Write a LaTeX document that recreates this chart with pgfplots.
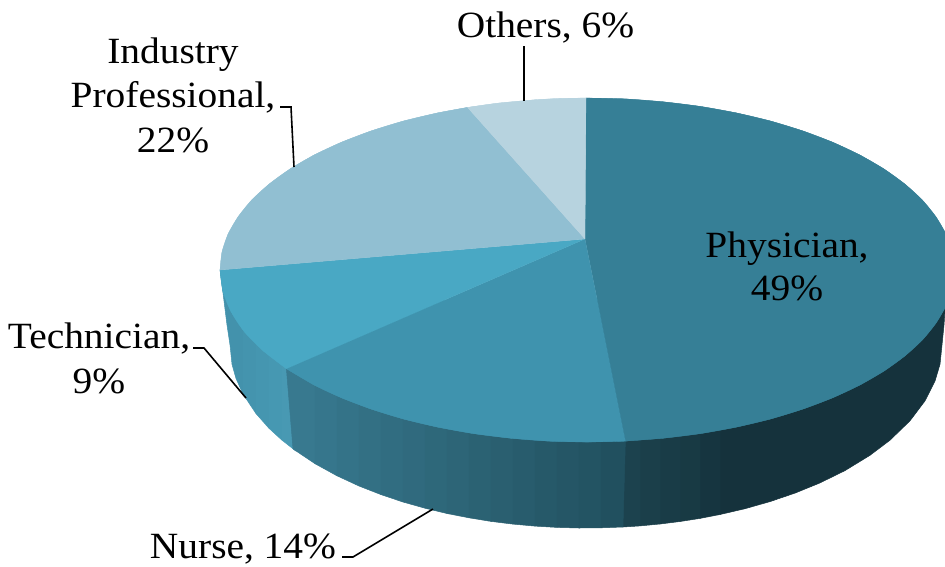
\documentclass[border=0pt]{standalone}
\usepackage{pgfplots}
\pgfplotsset{compat=1.18}
\usepackage{fontspec}
\setmainfont[FakeStretch=1.065]{Liberation Serif}
\definecolor{tp}{HTML}{367F96}
\definecolor{tn}{HTML}{3F93AE}
\definecolor{tt}{HTML}{49A8C4}
\definecolor{ti}{HTML}{91BFD2}
\definecolor{to}{HTML}{B7D3DF}
\definecolor{pa}{HTML}{15323C}
\definecolor{pb}{HTML}{163540}
\definecolor{pc}{HTML}{183A44}
\definecolor{pd}{HTML}{193C47}
\definecolor{pe}{HTML}{1B3F4A}
\definecolor{pf}{HTML}{1C424E}
\definecolor{na}{RGB}{56,121,143}
\definecolor{nb}{RGB}{54,118,140}
\definecolor{nc}{RGB}{52,115,136}
\definecolor{nd}{RGB}{51,112,132}
\definecolor{ne}{RGB}{49,109,129}
\definecolor{nf}{RGB}{48,106,126}
\definecolor{ng}{RGB}{46,104,122}
\definecolor{nh}{RGB}{45,101,119}
\definecolor{ni}{RGB}{43,98,115}
\definecolor{nj}{RGB}{42,95,112}
\definecolor{nk}{RGB}{40,92,109}
\definecolor{nl}{RGB}{38,89,105}
\definecolor{nm}{RGB}{37,86,102}
\definecolor{nn}{RGB}{35,84,99}
\definecolor{no}{RGB}{33,80,95}
\definecolor{ea}{HTML}{4392AC}
\definecolor{eb}{HTML}{4494AE}
\definecolor{ec}{HTML}{4596B0}
\definecolor{ed}{HTML}{4698B2}
\definecolor{ee}{HTML}{4899B3}
\newcommand\q[2]{\addplot[forget plot,no marks,fill=#1,draw=#1,line width=.5pt,line join=round] coordinates {#2} -- cycle;}
\newcommand\tq[2]{\addplot[forget plot,no marks,fill=#1,draw=#1,line width=.2pt,line join=round] coordinates {#2} -- cycle;}
\newcommand\cp[2]{\addplot[forget plot,no marks,smooth,fill=#1,draw=#1,line width=.2pt] coordinates {#2} -- cycle;}
\newcommand\lead[1]{\addplot[forget plot,no marks,black,line width=1.6pt] coordinates {#1};}
\newcommand\lab[3]{\node[anchor=base,inner sep=0pt,font=\fontsize{37}{44}\selectfont] at (axis cs:#1,#2) {#3};}
\begin{document}
\begin{tikzpicture}
\begin{axis}[hide axis,scale only axis,width=945pt,height=566pt,xmin=0,xmax=945,ymin=0,ymax=566,y dir=reverse,clip=true,clip mode=individual]
% side wall: Physician
\q{pa}{(720,290)(720,514.5)(745,508.7)(770,501.6)(795,493.1)(820,482.9)(845,470.6)(870,455.3)(890,440.2)(910,420.8)(925,400.9)(935,381.1)(940,364.3)(942,345)(944,325)(945.5,303)(945.5,290)}
\q{pb}{(700,300)(700,518.4)(720,514.5)(720,300)}
\q{pc}{(680,300)(680,521.5)(700,518.4)(700,300)}
\q{pd}{(660,300)(660,524)(680,521.5)(680,300)}
\q{pe}{(640,300)(640,525.9)(660,524)(660,300)}
\q{pf}{(625,300)(623,527)(640,525.9)(640,300)}
% side wall: Technician
\q{ea}{(220,270)(223,293)(227,325)(230,345)(232,364.3)(236,378.5)(243,394)(243,280)}
\q{eb}{(243,300)(243,394)(256,413.6)(256,300)}
\q{ec}{(256,300)(256,413.6)(269,428.3)(269,300)}
\q{ed}{(269,300)(269,428.3)(282,440.2)(282,300)}
\q{ee}{(282,300)(282,440.2)(296,451.1)(296,300)}
% side wall: Nurse
\q{na}{(286.4,300)(286.4,368.7)(293,448.9)(315,463.7)(315,300)}
\q{nb}{(315,300)(315,463.7)(337,475.8)(337,300)}
\q{nc}{(337,300)(337,475.8)(359,486)(359,300)}
\q{nd}{(359,300)(359,486)(381,494.6)(381,300)}
\q{ne}{(381,300)(381,494.6)(403,502)(403,300)}
\q{nf}{(403,300)(403,502)(425,508.2)(425,300)}
\q{ng}{(425,300)(425,508.2)(447,513.5)(447,300)}
\q{nh}{(447,300)(447,513.5)(469,517.8)(469,300)}
\q{ni}{(469,300)(469,517.8)(491,521.4)(491,300)}
\q{nj}{(491,300)(491,521.4)(513,524.1)(513,300)}
\q{nk}{(513,300)(513,524.1)(535,526.1)(535,300)}
\q{nl}{(535,300)(535,526.1)(557,527.4)(557,300)}
\q{nm}{(557,300)(557,527.4)(579,528)(579,300)}
\q{nn}{(579,300)(579,528)(601,527.8)(601,300)}
\q{no}{(601,300)(601,527.8)(623,527)(625.4,441.1)(625.4,300)}
% top sectors
\tq{tp}{(585,239)(586,98)(625.4,98.9)(663.3,101.8)(700.4,106.4)(736.4,112.9)(770.5,121)(802.8,130.9)(832.6,142.2)(859.7,154.9)(883.9,168.9)(904.8,184)(922.3,200)(936,216.9)(946,234.2)(952,252)(954,270)(952,288)(946,305.8)(936,323.1)(922.3,340)(904.8,356)(883.9,371.1)(859.7,385.1)(832.6,397.8)(802.8,409.1)(770.5,419)(736.4,427.1)(700.4,433.6)(663.3,438.2)(625.4,441.1)}
\cp{tp}{(586,98)(625.4,98.9)(663.3,101.8)(700.4,106.4)(736.4,112.9)(770.5,121)(802.8,130.9)(832.6,142.2)(859.7,154.9)(883.9,168.9)(904.8,184)(922.3,200)(936,216.9)(946,234.2)(952,252)(954,270)(952,288)(946,305.8)(936,323.1)(922.3,340)(904.8,356)(883.9,371.1)(859.7,385.1)(832.6,397.8)(802.8,409.1)(770.5,419)(736.4,427.1)(700.4,433.6)(663.3,438.2)(625.4,441.1)}
\tq{tn}{(585,239)(625.4,441.1)(587,442)(548.6,441.1)(510.7,438.2)(473.6,433.6)(437.6,427.1)(403.5,419)(371.2,409.1)(341.5,397.8)(314.3,385.1)(286.4,368.7)}
\cp{tn}{(625.4,441.1)(587,442)(548.6,441.1)(510.7,438.2)(473.6,433.6)(437.6,427.1)(403.5,419)(371.2,409.1)(341.5,397.8)(314.3,385.1)(286.4,368.7)}
\tq{tt}{(585,239)(286.4,368.7)(263,350.7)(244.2,331.6)(231,311.6)(222.8,291)(220,270)}
\cp{tt}{(286.4,368.7)(263,350.7)(244.2,331.6)(231,311.6)(222.8,291)(220,270)}
\tq{ti}{(585,239)(220,270)(222,252)(228,234.2)(238,216.9)(251.7,200)(269.2,184)(290.1,168.9)(314.3,154.9)(341.5,142.2)(371.2,130.9)(403.5,121)(437.6,112.9)(467.5,107.4)}
\cp{ti}{(220,270)(222,252)(228,234.2)(238,216.9)(251.7,200)(269.2,184)(290.1,168.9)(314.3,154.9)(341.5,142.2)(371.2,130.9)(403.5,121)(437.6,112.9)(467.5,107.4)}
\tq{to}{(585,239)(467.5,107.4)(498.2,103.1)(536,99.7)(561.4,98.4)(586,98)}
\cp{to}{(467.5,107.4)(498.2,103.1)(536,99.7)(561.4,98.4)(586,98)}
% leader lines
\lead{(524,46)(524,101)}
\lead{(280,107)(291,107)(294,167)}
\lead{(193,348)(204,348)(246,398)}
\lead{(342,557)(353,557)(433,509)}
% labels
\lab{787}{257}{Physician,}
\lab{787}{300}{49\%}
\lab{545.5}{37}{Others, 6\%}
\lab{173}{63}{Industry}
\lab{173}{107}{Professional,}
\lab{173}{152}{22\%}
\lab{99}{348}{Technician,}
\lab{99}{393}{9\%}
\lab{243}{558}{Nurse, 14\%}
\end{axis}
\pgfresetboundingbox
\path[use as bounding box] (current axis.south west) rectangle (current axis.north east);
\end{tikzpicture}
\end{document}
